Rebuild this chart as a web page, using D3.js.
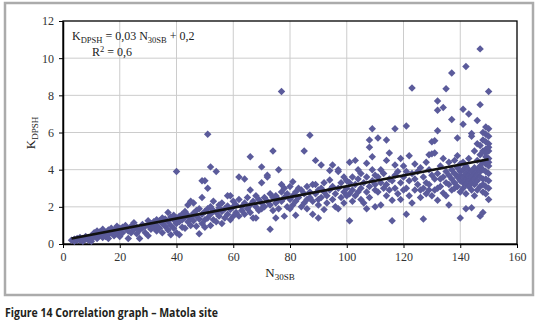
<!DOCTYPE html>
<html lang="en"><head>
<meta charset="utf-8">
<title>Correlation graph - Matola site</title>
<script src="https://cdn.jsdelivr.net/npm/d3@7"></script>
<style>
  body { margin: 0; background: #fff; }
</style>
</head>
<body>
<script type="text/javascript">

var width = 546;
var height = 323;

// axis ticks
var xTicks = [0, 20, 40, 60, 80, 100, 120, 140, 160];
var yTicks = [0, 2, 4, 6, 8, 10, 12];

// trend line K = a*N + b, drawn between these N values
var trendCoef = [0.029, 0.21];
var trendRange = [3, 150];

// [N30SB, KDPSH]
var matolaPoints = [
  [3,0.2],[4,0.25],[4,0.15],[5,0.3],[5,0.2],[6,0.35],[6,0.2],[7,0.3],[7,0.15],[8,0.4],[8,0.25],[9,0.35],[9,0.2],[10,0.45],[10,0.3],[10,0.15],
  [11,0.6],[11,0.4],[12,0.7],[12,0.5],[12,0.3],[13,0.65],[13,0.45],[14,0.8],[14,0.55],[14,0.35],[15,0.6],[15,0.4],[16,0.75],[16,0.5],[16,0.3],[17,0.6],[17,0.85],[18,0.45],[18,0.7],[19,0.9],[19,0.95],[19,0.55],[20,0.7],[20,0.4],[20,0.85],
  [21,0.9],[21,0.6],[22,0.85],[22,1.0],[23,0.3],[23,0.7],[24,0.95],[24,0.6],[25,1.15],[25,0.8],[26,0.9],[26,0.55],[27,0.3],[27,0.75],[28,1.05],[28,0.85],[29,0.6],[29,0.95],[30,1.25],[30,0.45],[30,1.0],
  [31,1.1],[31,0.8],[32,1.2],[32,0.9],[33,1.3],[33,0.7],[33,1.0],[34,1.25],[34,0.85],[35,1.4],[35,1.1],[35,0.6],[36,1.35],[36,0.95],[37,1.7],[37,1.2],[37,0.75],[38,1.45],[38,1.0],[38,0.5],[39,1.3],[39,1.55],[39,0.85],[40,1.4],[40,1.1],[40,3.9],[40,0.6],
  [41,1.5],[41,1.2],[41,0.5],[42,1.6],[42,1.3],[42,0.9],[43,1.45],[43,0.85],[43,1.75],[44,1.55],[44,1.2],[44,2.1],[45,2.3],[45,1.4],[45,1.0],[46,2.2],[46,1.65],[46,1.25],[47,1.5],[47,1.8],[47,0.95],[48,0.55],[48,1.35],[48,1.9],[49,2.5],[49,3.4],[49,1.6],[49,1.1],[50,3.4],[50,1.75],[50,1.3],[50,0.9],
  [51,5.9],[51,3.0],[51,1.9],[51,1.4],[52,4.15],[52,2.0],[52,1.6],[52,1.0],[53,1.8],[53,1.3],[53,2.3],[54,3.9],[54,1.7],[54,1.2],[55,2.1],[55,1.5],[55,1.95],[56,1.75],[56,1.1],[56,2.2],[57,1.4],[57,1.9],[58,2.6],[58,1.6],[58,2.05],[59,2.6],[59,1.3],[59,1.85],[60,2.0],[60,1.5],[60,2.3],
  [61,2.1],[61,1.7],[62,3.6],[62,2.4],[62,1.5],[63,2.0],[63,1.8],[64,3.5],[64,2.2],[64,1.6],[65,2.5],[65,1.9],[66,4.7],[66,2.9],[66,2.1],[66,1.7],[67,2.3],[67,1.4],[68,1.4],[68,2.0],[68,2.6],[69,2.4],[69,1.8],[70,4.15],[70,3.3],[70,2.2],[70,1.9],
  [71,2.5],[71,2.0],[72,3.7],[72,3.6],[72,2.3],[73,0.8],[73,2.1],[73,2.7],[74,5.0],[74,2.5],[74,1.8],[75,1.4],[75,2.6],[75,2.2],[76,4.0],[76,2.4],[76,1.9],[77,8.2],[77,3.2],[77,2.8],[77,2.3],[78,1.5],[78,3.0],[78,2.5],[79,2.7],[79,2.0],[80,3.1],[80,2.4],[80,1.9],
  [81,3.35],[81,2.6],[81,2.1],[82,1.55],[82,2.8],[82,2.3],[83,3.0],[83,2.5],[84,2.9],[84,2.0],[85,5.0],[85,2.7],[85,2.2],[86,3.1],[86,2.4],[86,1.9],[87,5.85],[87,2.8],[87,2.5],[88,1.6],[88,3.2],[88,2.3],[89,4.5],[89,3.2],[89,2.7],[90,1.4],[90,2.9],[90,2.4],[90,2.1],
  [91,4.25],[91,3.0],[91,2.5],[92,1.85],[92,2.8],[92,3.3],[93,2.6],[93,2.2],[94,3.95],[94,3.45],[94,2.9],[95,4.25],[95,3.1],[95,2.4],[96,2.7],[96,2.0],[97,4.0],[97,3.9],[97,1.9],[97,3.0],[98,2.5],[98,3.3],[99,3.6],[99,2.8],[99,2.2],[100,3.4],[100,2.6],[100,3.0],
  [101,1.25],[101,3.3],[101,2.7],[101,4.4],[102,3.6],[102,2.9],[102,2.3],[103,4.5],[103,3.2],[103,2.6],[104,4.0],[104,3.5],[104,2.8],[105,3.0],[105,2.4],[105,3.8],[106,3.3],[106,2.2],[107,4.35],[107,1.9],[107,3.6],[107,2.8],[108,5.6],[108,5.2],[108,3.1],[108,2.5],[109,6.2],[109,4.7],[109,4.0],[109,3.4],[110,2.0],[110,3.7],[110,2.9],[110,3.2],
  [111,5.7],[111,3.6],[111,2.8],[112,2.1],[112,3.3],[112,4.0],[113,3.0],[113,3.8],[114,5.6],[114,4.5],[114,3.2],[114,2.6],[115,4.9],[115,3.5],[115,2.9],[116,1.25],[116,2.35],[116,3.4],[117,6.2],[117,4.25],[117,3.7],[117,3.0],[118,3.9],[118,2.7],[119,4.6],[119,3.3],[119,2.4],[120,3.6],[120,2.9],[120,4.2],
  [121,6.35],[121,1.6],[121,3.9],[121,3.0],[122,4.75],[122,3.4],[122,2.6],[123,8.4],[123,3.8],[123,2.2],[124,3.5],[124,4.3],[124,2.9],[125,3.2],[125,3.9],[126,2.9],[126,2.5],[126,4.1],[127,1.35],[127,3.6],[127,3.0],[128,4.4],[128,3.3],[128,2.7],[129,4.8],[129,3.2],[129,2.9],[129,4.0],[130,5.5],[130,3.7],[130,2.6],[130,4.85],
  [131,5.55],[131,4.9],[131,3.5],[131,2.9],[132,7.7],[132,7.2],[132,6.1],[132,2.35],[132,3.0],[132,3.8],[133,3.1],[133,4.2],[133,3.5],[134,7.35],[134,2.75],[134,3.6],[134,4.6],[135,8.35],[135,3.3],[135,3.9],[135,2.6],[136,2.1],[136,3.7],[136,4.4],[136,3.2],[137,9.2],[137,6.7],[137,3.5],[137,4.0],[137,2.9],[138,3.8],[138,3.3],[138,4.5],[138,3.0],[139,5.7],[139,4.75],[139,3.6],[139,3.1],[139,4.1],[140,1.4],[140,3.4],[140,3.9],[140,3.7],[140,4.3],[140,2.8],
  [141,7.25],[141,6.45],[141,3.3],[141,3.6],[141,4.0],[141,3.0],[141,4.4],[142,9.55],[142,1.9],[142,3.5],[142,3.8],[142,3.2],[142,4.2],[142,2.7],[143,7.0],[143,3.4],[143,3.7],[143,4.0],[143,3.1],[143,4.6],[144,5.95],[144,5.8],[144,1.95],[144,3.6],[144,3.3],[144,3.9],[144,2.9],[145,2.6],[145,3.5],[145,4.1],[145,3.8],[145,3.2],[145,5.0],
  [146,6.65],[146,5.4],[146,3.7],[146,3.4],[146,4.0],[146,2.9],[146,4.5],[147,10.5],[147,7.5],[147,1.5],[147,3.6],[147,4.2],[147,3.9],[147,3.1],[147,4.8],[147,5.3],[148,1.7],[148,3.5],[148,4.4],[148,4.0],[148,5.0],[148,5.6],[148,3.2],[148,2.8],[148,6.0],
  [149,6.3],[149,5.9],[149,5.5],[149,5.1],[149,4.7],[149,4.3],[149,3.9],[149,3.5],[149,3.1],[149,2.7],[149,4.9],[150,8.2],[150,6.2],[150,5.8],[150,5.4],[150,5.0],[150,4.6],[150,4.2],[150,3.8],[150,3.4],[150,3.0],[150,2.4],[150,4.4],[150,5.2]
];

var svg = d3.select("body").append("svg")
            .attr("width", width)
            .attr("height", height);

var serif = "'Liberation Serif', 'DejaVu Serif', serif";

// outer grey frame
svg.append("rect")
    .attr("x", 5).attr("y", 3)
    .attr("width", 528).attr("height", 292)
    .attr("fill", "none")
    .attr("stroke", "#ababab")
    .attr("stroke-width", 2.5);

var plot = {left: 63, top: 21, right: 517, bottom: 244};

var x = d3.scaleLinear().domain([0, 160]).range([plot.left, plot.right]);
var y = d3.scaleLinear().domain([0, 12]).range([plot.bottom, plot.top]);

// gridlines
svg.append("g").selectAll("line")
    .data(xTicks.slice(1, -1))
    .enter().append("line")
    .attr("x1", (d) => x(d)).attr("x2", (d) => x(d))
    .attr("y1", plot.top).attr("y2", plot.bottom)
    .attr("stroke", "#cccccc").attr("stroke-width", 1);

svg.append("g").selectAll("line")
    .data(yTicks.slice(1, -1))
    .enter().append("line")
    .attr("x1", plot.left).attr("x2", plot.right)
    .attr("y1", (d) => y(d)).attr("y2", (d) => y(d))
    .attr("stroke", "#cccccc").attr("stroke-width", 1);

// axes
var xAxis = svg.append("g")
    .attr("transform", "translate(0," + plot.bottom + ")")
    .call(d3.axisBottom(x).tickValues(xTicks).tickSize(4).tickPadding(4).tickSizeOuter(0));
var yAxis = svg.append("g")
    .attr("transform", "translate(" + plot.left + ",0)")
    .call(d3.axisLeft(y).tickValues(yTicks).tickSize(4).tickPadding(5).tickSizeOuter(0));

[xAxis, yAxis].forEach((g) => {
    g.select(".domain").attr("stroke", "#000").attr("stroke-width", 1.5);
    g.selectAll(".tick line").attr("stroke", "#000");
    g.selectAll("text")
        .attr("fill", "#333")
        .style("font-family", serif)
        .style("font-size", "12px");
});

// plot border (top and right)
svg.append("rect")
    .attr("x", plot.left).attr("y", plot.top)
    .attr("width", plot.right - plot.left)
    .attr("height", plot.bottom - plot.top)
    .attr("fill", "none")
    .attr("stroke", "#000")
    .attr("stroke-width", 1.3);

// scatter diamonds
var diamond = d3.symbol().type(d3.symbolSquare).size(28);
svg.append("g").selectAll("path")
    .data(matolaPoints)
    .enter().append("path")
    .attr("d", diamond)
    .attr("transform", (d) => "translate(" + x(d[0]) + "," + y(d[1]) + ") rotate(45)")
    .attr("fill", "#5b5b9b");

// trend line
svg.append("line")
    .attr("x1", x(trendRange[0]))
    .attr("y1", y(trendCoef[0] * trendRange[0] + trendCoef[1]))
    .attr("x2", x(trendRange[1]))
    .attr("y2", y(trendCoef[0] * trendRange[1] + trendCoef[1]))
    .attr("stroke", "#111")
    .attr("stroke-width", 2.6);

// equation
var eq = svg.append("text")
    .attr("x", 72).attr("y", 40)
    .attr("fill", "#222")
    .style("font-family", serif)
    .style("font-size", "12px");
eq.append("tspan").text("K");
eq.append("tspan").attr("dy", 3).style("font-size", "8.5px").text("DPSH");
eq.append("tspan").attr("dy", -3).text(" = 0,03 N");
eq.append("tspan").attr("dy", 3).style("font-size", "8.5px").text("30SB");
eq.append("tspan").attr("dy", -3).text(" + 0,2");

var r2 = svg.append("text")
    .attr("x", 92).attr("y", 56)
    .attr("fill", "#222")
    .style("font-family", serif)
    .style("font-size", "12px");
r2.append("tspan").text("R");
r2.append("tspan").attr("dy", -4).style("font-size", "8.5px").text("2");
r2.append("tspan").attr("dy", 4).text(" = 0,6");

// axis titles
var yTitle = svg.append("text")
    .attr("transform", "translate(35,133) rotate(-90)")
    .attr("text-anchor", "middle")
    .attr("fill", "#222")
    .style("font-family", serif)
    .style("font-size", "13px");
yTitle.append("tspan").text("K");
yTitle.append("tspan").attr("dy", 3).style("font-size", "9px").text("DPSH");

var xTitle = svg.append("text")
    .attr("x", 280).attr("y", 277)
    .attr("text-anchor", "middle")
    .attr("fill", "#222")
    .style("font-family", serif)
    .style("font-size", "13px");
xTitle.append("tspan").text("N");
xTitle.append("tspan").attr("dy", 3).style("font-size", "9px").text("30SB");

// caption
svg.append("text")
    .attr("x", 5).attr("y", 317)
    .attr("fill", "#231f20")
    .attr("textLength", 213)
    .attr("lengthAdjust", "spacingAndGlyphs")
    .style("font-family", "'Open Sans', sans-serif")
    .style("font-weight", "bold")
    .style("font-size", "13px")
    .text("Figure 14 Correlation graph \u2013 Matola site");

</script>
</body></html>
